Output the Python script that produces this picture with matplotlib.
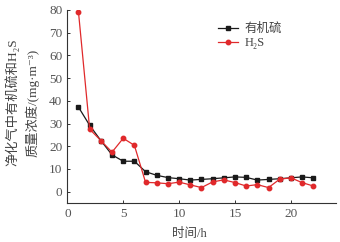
import matplotlib
matplotlib.use("Agg")
import matplotlib.pyplot as plt

hours = list(range(1, 23))
organic_sulfur = [37.2, 29.2, 22.5, 16.2, 13.4, 13.4, 8.8, 7.2, 6.2, 5.7, 5.1, 5.4, 5.7,
                  6.1, 6.5, 6.3, 5.1, 5.4, 5.7, 6.1, 6.5, 6.1]
h2s = [79.0, 27.5, 22.5, 17.4, 23.5, 20.4, 4.1, 3.9, 3.5, 4.2, 3.0, 1.8, 4.3,
       5.2, 4.0, 2.5, 3.1, 1.8, 5.5, 6.1, 4.0, 2.5]
xticks = [0, 5, 10, 15, 20]
yticks = [0, 10, 20, 30, 40, 50, 60, 70, 80]

fam = ['Liberation Serif', 'Noto Sans CJK SC', 'DejaVu Sans']
plt.rcParams['font.family'] = fam

fig = plt.figure(figsize=(3.4, 2.42), dpi=100)
ax = fig.add_axes([0.198, 0.161, 0.789, 0.798])

ax.plot(hours, organic_sulfur, color='#1a1a1a', marker='s', markersize=3, linewidth=0.9,
        label='有机硫')
ax.plot(hours, h2s, color='#e0292b', marker='o', markersize=3.2, linewidth=0.9,
        label='H₂S')

ax.set_xlim(0, 24)
ax.set_ylim(-5, 80)
ax.set_xticks(xticks)
ax.set_yticks(yticks)
for s in ['top', 'right']:
    ax.spines[s].set_visible(False)
for s in ['left', 'bottom']:
    ax.spines[s].set_linewidth(0.8)
    ax.spines[s].set_color('#333333')
ax.tick_params(direction='in', length=2.5, width=0.7, labelsize=9.5, colors='#333333',
               labelcolor='#555555')

ax.set_xlabel('时间/h', fontsize=9, color='#444444', labelpad=2)
ax.xaxis.set_label_coords(0.455, -0.13)
ax.set_ylabel('净化气中有机硫和H₂S\n质量浓度/(mg·m⁻³)', fontsize=9.5,
              color='#444444', linespacing=1.45)
ax.yaxis.set_label_coords(-0.105, 0.52)

leg = ax.legend(loc='upper left', bbox_to_anchor=(0.52, 0.99), frameon=False,
                fontsize=9, handlelength=1.6, handletextpad=0.5, labelspacing=0.15)
for t in leg.get_texts():
    t.set_color('#444444')

fig.savefig('out.png', dpi=100)
